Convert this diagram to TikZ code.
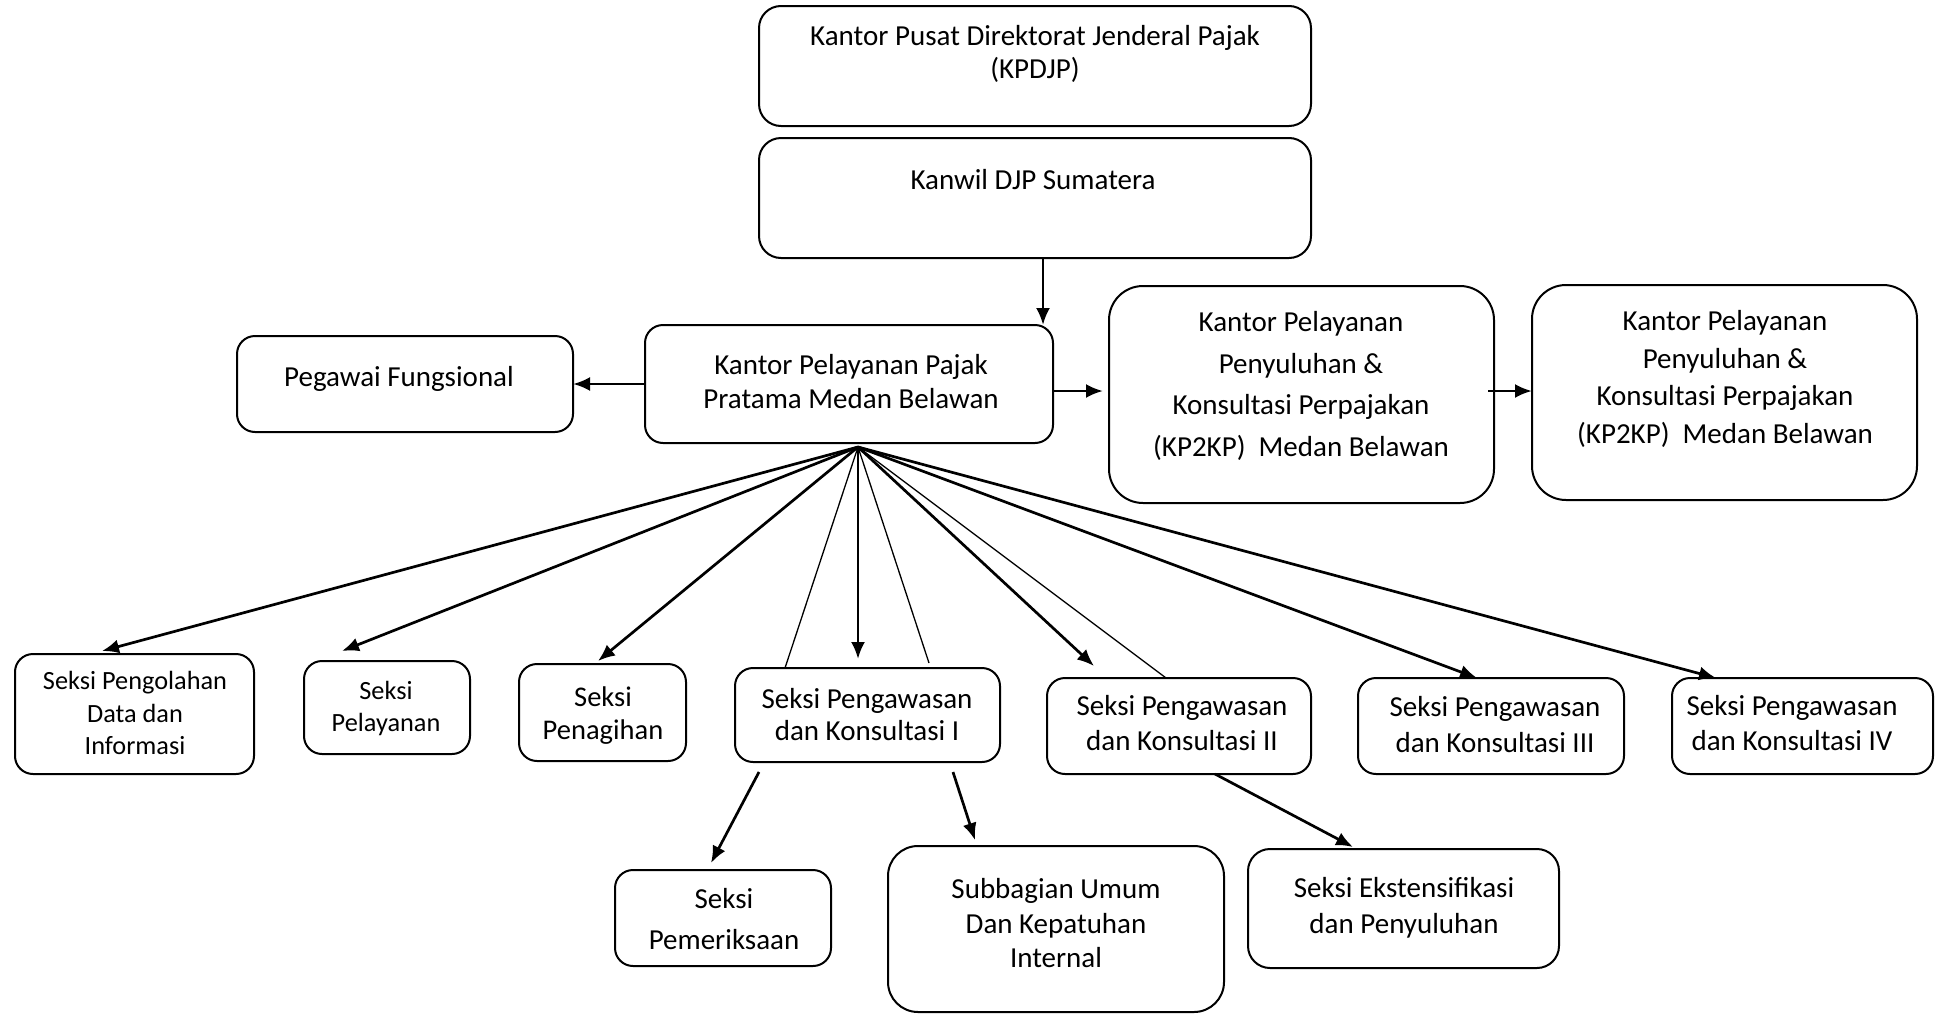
\documentclass[tikz,border=0pt]{standalone}
\usepackage{fontspec}
\setmainfont{Carlito}
\usetikzlibrary{arrows.meta,calc}
\begin{document}
\begin{tikzpicture}[x=1pt,y=-1pt,
  box/.style={draw, line width=2pt, rounded corners=18pt, inner sep=0pt, outer sep=0pt},
  bigbox/.style={box, rounded corners=34pt},
  txt/.style={align=center, inner sep=0pt},
  ls/.style={font=\fontsize{29}{#1}\selectfont},
  lss/.style={font=\fontsize{26.3}{#1}\selectfont},
  arr/.style={line width=2.7pt, -{Latex[length=17pt,width=14pt]}},
  thinline/.style={line width=1.3pt},
]
\useasboundingbox (0,0) rectangle (1936,1015);

% boxes
\node[box, rounded corners=22pt, minimum width=552pt, minimum height=120pt] (kpdjp) at (1035,66) {};
\node[box, rounded corners=22pt, minimum width=552pt, minimum height=120pt] (kanwil) at (1035,198) {};
\node[box, minimum width=408pt, minimum height=118pt] (kpp) at (849,384) {};
\node[box, minimum width=336pt, minimum height=96pt] (pegawai) at (405,384) {};
\node[bigbox, minimum width=385pt, minimum height=217pt] (kpa) at (1301.5,394.5) {};
\node[bigbox, minimum width=385pt, minimum height=215pt] (kpb) at (1724.5,392.5) {};
\node[box, minimum width=239pt, minimum height=120pt] (pdi) at (134.5,714) {};
\node[box, minimum width=166pt, minimum height=93pt] (pel) at (387,707.5) {};
\node[box, minimum width=167pt, minimum height=97pt] (pen) at (602.5,712.5) {};
\node[box, minimum width=265pt, minimum height=94pt] (pk1) at (867.5,715) {};
\node[box, minimum width=264pt, minimum height=96pt] (pk2) at (1179,726) {};
\node[box, minimum width=266pt, minimum height=96pt] (pk3) at (1491,726) {};
\node[box, minimum width=261pt, minimum height=96pt] (pk4) at (1802.5,726) {};
\node[box, minimum width=216pt, minimum height=96pt] (pem) at (723,918) {};
\node[bigbox, rounded corners=30pt, minimum width=336pt, minimum height=166pt] (sub) at (1056,929) {};
\node[box, rounded corners=22pt, minimum width=311pt, minimum height=119pt] (eks) at (1403.5,908.5) {};

% texts
\node[txt, ls=33] (tkpdjp) at (1035,53.5) {Kantor Pusat Direktorat Jenderal Pajak\\(KPDJP)};
\node[txt, ls=33] (tkanwil) at (1033,180) {Kanwil DJP Sumatera};
\node[txt, ls=34] (tkpp) at (851,382) {Kantor Pelayanan Pajak\\Pratama Medan Belawan};
\node[txt, ls=33] (tpeg) at (399,379) {Pegawai Fungsional};
\node[txt, ls=41.7] (tkpa) at (1301,386) {Kantor Pelayanan\\Penyuluhan \&\\Konsultasi Perpajakan\\(KP2KP)\ \ Medan Belawan};
\node[txt, ls=37.5] (tkpb) at (1725,379) {Kantor Pelayanan\\Penyuluhan \&\\Konsultasi Perpajakan\\(KP2KP)\ \ Medan Belawan};
\node[txt, lss=32.5] (tpdi) at (135,713) {Seksi Pengolahan\\Data dan\\Informasi};
\node[txt, lss=32] (tpel) at (386,708) {Seksi\\Pelayanan};
\node[txt, font=\fontsize{28.5}{33}\selectfont] (tpen) at (603,716) {Seksi\\Penagihan};
\node[txt, ls=32] (tpk1) at (867,715) {Seksi Pengawasan\\dan Konsultasi I};
\node[txt, ls=35] (tpk2) at (1182,723.5) {Seksi Pengawasan\\dan Konsultasi II};
\node[txt, ls=36] (tpk3) at (1495,725) {Seksi Pengawasan\\dan Konsultasi III};
\node[txt, ls=35] (tpk4) at (1792,723.5) {Seksi Pengawasan\\dan Konsultasi IV};
\node[txt, ls=41] (tpem) at (724,919.5) {Seksi\\Pemeriksaan};
\node[txt, ls=34.5] (tsub) at (1056,923.5) {Subbagian Umum\\Dan Kepatuhan\\Internal};
\node[txt, ls=36] (teks) at (1404,908) {Seksi Ekstensifikasi\\dan Penyuluhan};

% connectors
\coordinate (fan) at ($(kpp.south west)+(213,4)$);
\draw[arr] ($(kanwil.south west)+(284,0)$) -- ($(kpp.north west)+(398,0)$);
\draw[arr] (kpp.west) -- (pegawai.east);
\draw[arr] ($(kpp.east)+(0,7)$) -- ($(kpa.west)+(-6,-3.5)$);
\draw[arr] ($(kpa.east)+(-6,-3.5)$) -- ($(kpb.west)+(0,-1.5)$);

\draw[arr] (fan) -- ($(pdi.north west)+(87,-3)$);
\draw[arr] (fan) -- ($(pel.north west)+(38,-10)$);
\draw[arr] (fan) -- ($(pen.north west)+(79,-3)$);
\draw[thinline] (fan) -- ($(pk1.north west)+(50,0)$);
\draw[arr] (fan) -- ($(pk1.north west)+(123,-9)$);
\draw[thinline] (fan) -- ($(pk1.north west)+(194,-5)$);
\draw[arr] (fan) -- ($(pk2.north west)+(47,-12)$);
\draw[thinline] (fan) -- ($(pk2.north west)+(119,0)$);
\draw[arr] (fan) -- ($(pk3.north west)+(119,0)$);
\draw[arr] (fan) -- ($(pk4.north west)+(44,0)$);

\draw[arr] ($(pk1.south west)+(24,10)$) -- ($(pem.north west)+(96,-7)$);
\draw[arr] ($(pk1.south west)+(218,10)$) -- ($(sub.north west)+(87,-6)$);
\draw[arr] ($(pk2.south west)+(168,0)$) -- ($(eks.north west)+(105,-2)$);
\end{tikzpicture}
\end{document}
